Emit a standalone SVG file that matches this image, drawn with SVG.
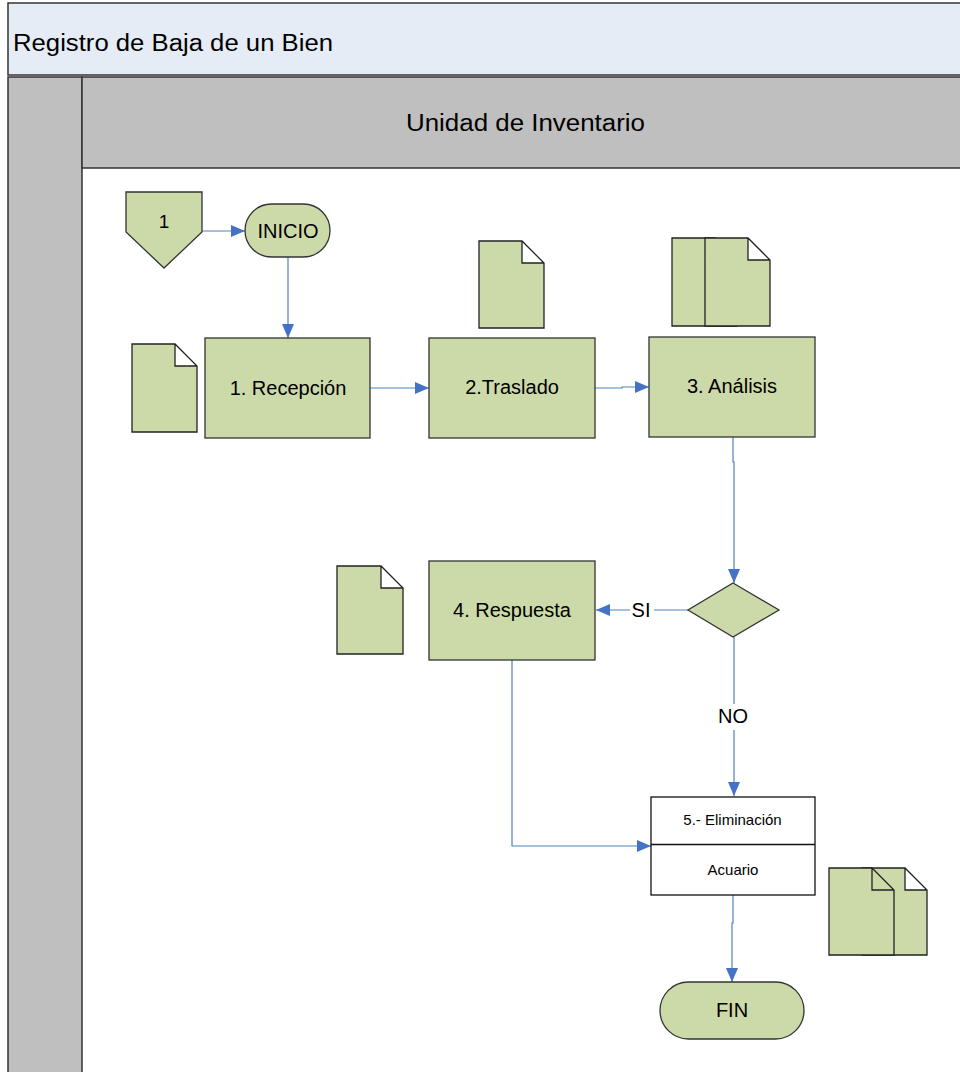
<svg xmlns="http://www.w3.org/2000/svg" width="960" height="1072" viewBox="0 0 960 1072">
<defs>
<style>
.lbl{font-family:"Liberation Sans",Arial,sans-serif;fill:#000;text-anchor:middle}
.box{fill:#CCDAAA;stroke:#333;stroke-width:1.3}
.wbox{fill:#fff;stroke:#111;stroke-width:1.3}
.doc{fill:#CCDAAA;stroke:#222;stroke-width:1.3;stroke-linejoin:miter}
.con{fill:none;stroke:#4F81BD;stroke-width:1.2}
</style>
<marker id="ah" markerUnits="userSpaceOnUse" markerWidth="14" markerHeight="12" refX="14" refY="6" orient="auto">
<path d="M0,0 L14,6 L0,12 Z" fill="#4472C4"/>
</marker>
</defs>
<rect width="960" height="1072" fill="#fff"/>
<g id="pool">
<rect x="8" y="3" width="960" height="72" fill="#E6ECF6" stroke="#333" stroke-width="1.5"/>
<text x="13" y="51" class="lbl" style="text-anchor:start" font-size="23" textLength="320" lengthAdjust="spacingAndGlyphs">Registro de Baja de un Bien</text>
<rect x="8" y="77" width="74" height="1000" fill="#BFBFBF" stroke="#333" stroke-width="1.5"/>
<rect x="82" y="77" width="890" height="91" fill="#BFBFBF" stroke="#333" stroke-width="1.5"/>
<text x="525.5" y="131" class="lbl" font-size="23" textLength="239" lengthAdjust="spacingAndGlyphs">Unidad de Inventario</text>
</g>
<g id="connectors">
<path class="con" d="M202,231 H245" marker-end="url(#ah)"/>
<path class="con" d="M288,257 V338" marker-end="url(#ah)"/>
<path class="con" d="M370,388 H429" marker-end="url(#ah)"/>
<path class="con" d="M595,388 H622 V387 H649" marker-end="url(#ah)"/>
<path class="con" d="M733,437 V462 H734 V583" marker-end="url(#ah)"/>
<path class="con" d="M688,610 H654 M630,610 H596" marker-end="url(#ah)"/>
<path class="con" d="M734,637 V704 M734,730 V796" marker-end="url(#ah)"/>
<path class="con" d="M512,660 V846 H651" marker-end="url(#ah)"/>
<path class="con" d="M733,895 V923 H732 V982" marker-end="url(#ah)"/>
<text x="641" y="617" class="lbl" font-size="20">SI</text>
<text x="733" y="723" class="lbl" font-size="20">NO</text>
</g>
<g id="c1">
<path class="box" d="M126,192 H202 V232 L164,268 L126,232 Z"/>
<text x="164" y="228" class="lbl" font-size="19">1</text>
</g>
<g id="inicio">
<rect class="box" x="245" y="204" width="85" height="53" rx="26.5"/>
<text x="288" y="237.5" class="lbl" font-size="20">INICIO</text>
</g>
<g id="doc1">
<path class="doc" d="M132,344 H175 L197,366 V432 H132 Z M175,344 V366 H197"/>
</g>
<g id="n1">
<rect class="box" x="205" y="338" width="165" height="100"/>
<text x="288" y="394.5" class="lbl" font-size="20">1. Recepción</text>
</g>
<g id="doc2">
<path class="doc" d="M479,241 H522 L544,263 V328 H479 Z M522,241 V263 H544"/>
</g>
<g id="n2">
<rect class="box" x="429" y="338" width="166" height="100"/>
<text x="512" y="393.5" class="lbl" font-size="20">2.Traslado</text>
</g>
<g id="doc3">
<path class="doc" d="M672,238 H715 L737,260 V326 H672 Z"/>
<path class="doc" d="M705,238 H748 L770,260 V326 H705 Z M748,238 V260 H770"/>
</g>
<g id="n3">
<rect class="box" x="649" y="337" width="166" height="100"/>
<text x="732" y="392.5" class="lbl" font-size="20">3. Análisis</text>
</g>
<g id="dec">
<path class="box" d="M733,583 L779,610 L733,637 L688,610 Z"/>
</g>
<g id="doc4">
<path class="doc" d="M337,566 H381 L403,588 V654 H337 Z M381,566 V588 H403"/>
</g>
<g id="n4">
<rect class="box" x="429" y="561" width="166" height="99"/>
<text x="512" y="617" class="lbl" font-size="20">4. Respuesta</text>
</g>
<g id="n5">
<rect class="wbox" x="651" y="797" width="164" height="98"/>
<line x1="651" y1="844.5" x2="815" y2="844.5" stroke="#111" stroke-width="1.3"/>
<text x="732.5" y="825" class="lbl" font-size="15">5.- Eliminación</text>
<text x="733" y="875" class="lbl" font-size="15">Acuario</text>
</g>
<g id="doc5">
<path class="doc" d="M862,868 H905 L927,890 V955 H862 Z M905,868 V890 H927"/>
<path class="doc" d="M829,868 H872 L894,890 V955 H829 Z M872,868 V890 H894"/>
</g>
<g id="fin">
<rect class="box" x="660" y="982" width="144" height="57" rx="28.5"/>
<text x="732" y="1017" class="lbl" font-size="20">FIN</text>
</g>
</svg>
